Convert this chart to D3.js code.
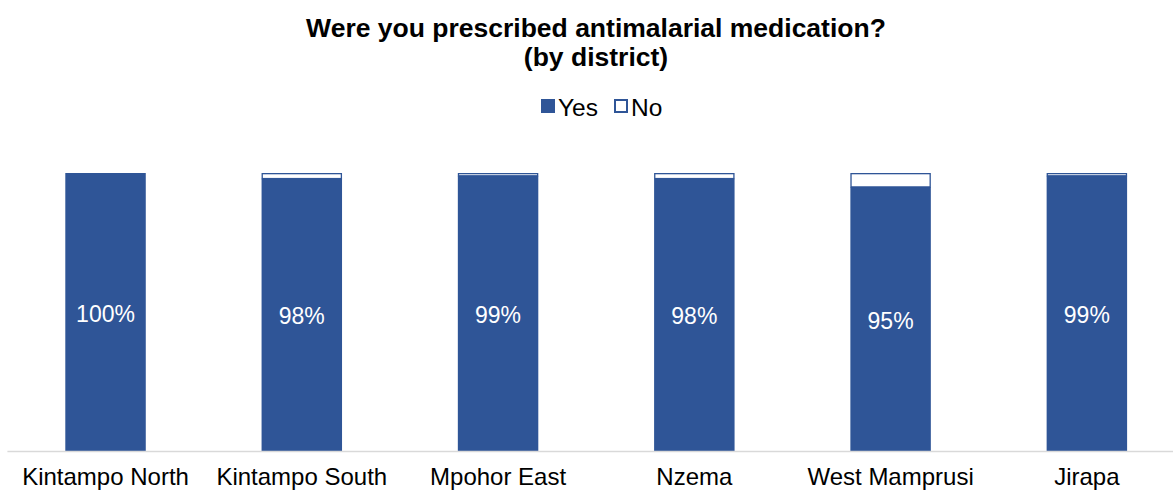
<!DOCTYPE html>
<html>
<head>
<meta charset="utf-8">
<script src="https://cdn.jsdelivr.net/npm/d3@7"></script>
<style>
  html, body { margin: 0; padding: 0; background: #fff; }
  svg { display: block; font-family: "Liberation Sans", Arial, sans-serif; }
</style>
</head>
<body>
<svg id="chart" width="1173" height="491"></svg>
<script>
// Districts and response shares (%)
const districts = ["Kintampo North", "Kintampo South", "Mpohor East", "Nzema", "West Mamprusi", "Jirapa"];
const yesValues = [100, 98, 99, 98, 95, 99];
const noValues  = [0, 2, 1, 2, 5, 1];
const seriesNames = ["Yes", "No"];
const yDomain = [0, 100];

const blue = "#2F5597";
const svg = d3.select("#chart");

const x = d3.scaleBand()
  .domain(districts)
  .range([7.4, 1185])
  .paddingInner(0.59)
  .paddingOuter(0.295);

const y = d3.scaleLinear().domain(yDomain).range([451, 173]);

// Title
const title = svg.append("text")
  .attr("text-anchor", "middle")
  .attr("font-weight", "bold")
  .attr("font-size", 26.5)
  .attr("fill", "#000");
title.append("tspan").attr("x", 596).attr("y", 37).text("Were you prescribed antimalarial medication?");
title.append("tspan").attr("x", 596).attr("y", 66).text("(by district)");

// Legend
const legend = svg.append("g");
legend.append("rect").attr("x", 541).attr("y", 99).attr("width", 14).attr("height", 14).attr("fill", blue);
legend.append("text").attr("x", 558).attr("y", 116).attr("font-size", 24.5).text(seriesNames[0]);
legend.append("rect").attr("x", 615).attr("y", 100).attr("width", 12).attr("height", 12)
  .attr("fill", "#fff").attr("stroke", blue).attr("stroke-width", 2);
legend.append("text").attr("x", 631).attr("y", 116).attr("font-size", 24.5).text(seriesNames[1]);

// Stacked data
const rows = districts.map((d, i) => ({ district: d, Yes: yesValues[i], No: noValues[i] }));
const stacked = d3.stack().keys(seriesNames)(rows);

// Yes segments
svg.append("g").selectAll("rect")
  .data(stacked[0])
  .join("rect")
  .attr("x", d => x(d.data.district))
  .attr("width", x.bandwidth())
  .attr("y", d => y(d[1]))
  .attr("height", d => y(d[0]) - y(d[1]))
  .attr("fill", blue);

// No segments (white with blue outline)
svg.append("g").selectAll("rect")
  .data(stacked[1].filter(d => d[1] - d[0] > 0))
  .join("rect")
  .attr("x", d => x(d.data.district) + 0.65)
  .attr("width", x.bandwidth() - 1.3)
  .attr("y", d => y(d[1]) + 0.65)
  .attr("height", d => Math.max(0, y(d[0]) - y(d[1]) - 0.65))
  .attr("fill", "#fff")
  .attr("stroke", blue)
  .attr("stroke-width", 1.3);

// Value labels centred in the Yes segments
svg.append("g").selectAll("text")
  .data(stacked[0])
  .join("text")
  .attr("x", d => x(d.data.district) + x.bandwidth() / 2)
  .attr("y", d => (y(d[0]) + y(d[1])) / 2)
  .attr("dy", "0.42em")
  .attr("text-anchor", "middle")
  .attr("font-size", 23)
  .attr("fill", "#fff")
  .text(d => d.data.Yes + "%");

// Category axis
const axis = svg.append("g").attr("transform", "translate(0,451)")
  .call(d3.axisBottom(x).tickSize(0).tickPadding(17));
axis.select(".domain").attr("stroke", "#d9d9d9").attr("stroke-width", 1.5)
  .attr("d", "M7.4,0.5H1173");
axis.selectAll("text")
  .attr("font-family", "Liberation Sans, Arial, sans-serif")
  .attr("font-size", 24)
  .attr("fill", "#000");
</script>
</body>
</html>
